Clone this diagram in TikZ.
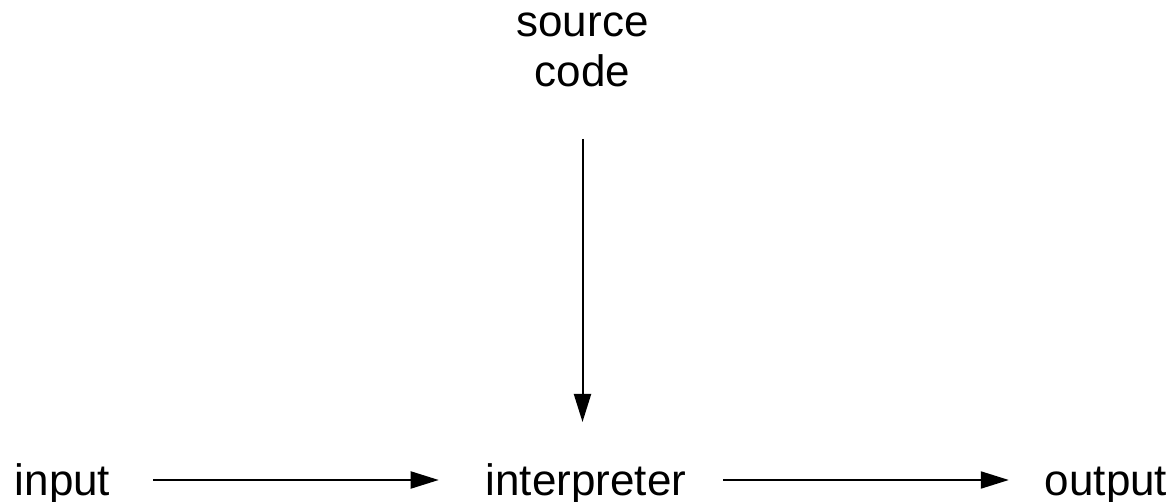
\documentclass[tikz,border=0pt]{standalone}
\usepackage{fontspec}
\setmainfont{Liberation Sans}
\usetikzlibrary{arrows.meta}
\begin{document}
\begin{tikzpicture}[x=1pt,y=-1pt,
  lbl/.style={inner sep=0pt, outer sep=0pt, anchor=base, font=\fontsize{44}{50}\selectfont},
  arr/.style={line width=2pt, -{Triangle[length=28pt,width=17pt]}}]
  \useasboundingbox (0,0) rectangle (1173,502);
  \node[lbl] (input)  at (62.5,495) {input};
  \node[lbl] (interp) at (586,495) {interpreter};
  \node[lbl] (output) at (1106,495) {output};
  \node[lbl, align=center] (src) at (582.5,87) {source\\code};
  \draw[arr] ([xshift=43pt,yshift=15pt]input.base east) -- ([xshift=-47pt,yshift=15pt]interp.base west);
  \draw[arr] ([xshift=37pt,yshift=15pt]interp.base east) -- ([xshift=-36pt,yshift=15pt]output.base west);
  \draw[arr] ([yshift=-52pt]src.base) -- ([yshift=73pt]interp.base -| src.base);
\end{tikzpicture}
\end{document}
